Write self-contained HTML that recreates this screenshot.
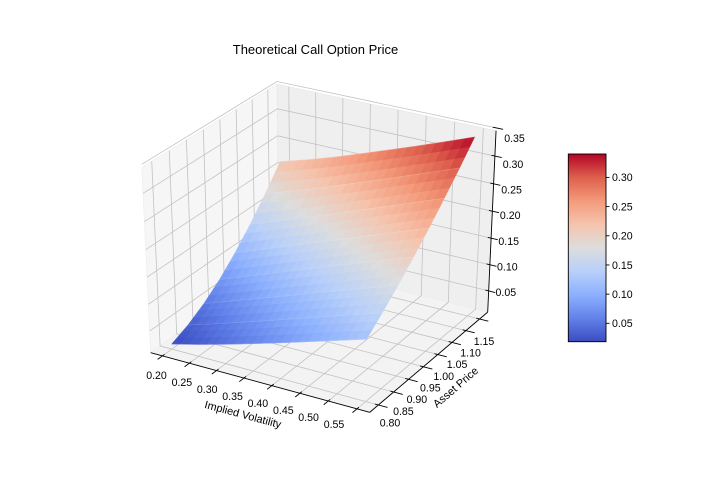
<!DOCTYPE html>
<html><head><meta charset="utf-8"><style>
html,body{margin:0;padding:0;background:#fff;}
svg{display:block;font-family:"Liberation Sans","DejaVu Sans",sans-serif;}
</style></head><body>
<svg id="chart" width="725" height="498" viewBox="0 0 725 498" xmlns="http://www.w3.org/2000/svg">
<rect width="725" height="498" fill="#fff"/>
<text x="315.5" y="54" font-size="13" text-anchor="middle" fill="#000">Theoretical Call Option Price</text>
<g id="panes"></g>
<g id="grid"></g>
<g id="surface"></g>
<g id="axes"></g>
<text x="0" y="0" font-size="11" text-anchor="middle" transform="translate(242,418) rotate(15)">Implied Volatility</text>
<text x="0" y="0" font-size="11" text-anchor="middle" transform="translate(458,390) rotate(-41)">Asset Price</text>
<defs><linearGradient id="cbg" x1="0" y1="1" x2="0" y2="0"></linearGradient></defs>
<g id="colorbar"></g>
</svg>
<script>
const vols = [0.20,0.25,0.30,0.35,0.40,0.45,0.50,0.55];
const assets = [0.80,0.85,0.90,0.95,1.00,1.05,1.10,1.15];
const prices = [
 [0.0185,0.0314,0.0454,0.0603,0.0756,0.0914,0.1072,0.1231],
 [0.0320,0.0478,0.0641,0.0808,0.0977,0.1145,0.1315,0.1484],
 [0.0508,0.0685,0.0864,0.1044,0.1223,0.1402,0.1582,0.1759],
 [0.0750,0.0938,0.1127,0.1314,0.1501,0.1685,0.1870,0.2053],
 [0.1045,0.1234,0.1422,0.1612,0.1802,0.1991,0.2179,0.2366],
 [0.1385,0.1565,0.1750,0.1937,0.2126,0.2316,0.2505,0.2696],
 [0.1766,0.1932,0.2105,0.2287,0.2471,0.2660,0.2849,0.3040],
 [0.2178,0.2324,0.2484,0.2660,0.2839,0.3021,0.3209,0.3401]
];
const xTicks = [0.20,0.25,0.30,0.35,0.40,0.45,0.50,0.55];
const yTicks = [0.80,0.85,0.90,0.95,1.00,1.05,1.10,1.15];
const zTicks = [0.05,0.10,0.15,0.20,0.25,0.30,0.35];
const cbTicks = [0.05,0.10,0.15,0.20,0.25,0.30];
const xLim=[0.178,0.572], yLim=[0.772,1.180], zLim=[0.009,0.345];

const NS="http://www.w3.org/2000/svg";
function mk(tag,attrs,parent){const e=document.createElementNS(NS,tag);for(const k in attrs)e.setAttribute(k,attrs[k]);parent.appendChild(e);return e;}
function nx(v){return (v-xLim[0])/(xLim[1]-xLim[0]);}
function ny(v){return (v-yLim[0])/(yLim[1]-yLim[0]);}
function nz(v){return (v-zLim[0])/(zLim[1]-zLim[0]);}
function proj(X,Y,Z){
  const xv=0.8660254*X+0.5*Y-0.6830127;
  const yv=-0.25*X+0.4330127*Y+0.8660254*Z-0.5245;
  const wd=10.0915-0.4330127*X+0.75*Y-0.5*Z;
  return [321.8+2528*xv/wd, 242.7-2115.7*yv/wd, wd];
}
function pts(list){return list.map(p=>{const q=proj(p[0],p[1],p[2]);return q[0].toFixed(2)+','+q[1].toFixed(2);}).join(' ');}
const cmKeys=[[59,76,192],[98,130,234],[141,176,254],[184,208,249],[221,221,221],[245,196,173],[244,154,123],[222,96,77],[180,4,38]];
function cmap(t){t=Math.max(0,Math.min(1,t));const f=t*8,i=Math.min(7,Math.floor(f)),r=f-i;const a=cmKeys[i],b=cmKeys[i+1];
  return 'rgb('+a.map((c,k)=>Math.round(c+(b[k]-c)*r)).join(',')+')';}

const panes=document.getElementById('panes');
let e;
e=mk('polygon',{points:pts([[0,0,0],[0,1,0],[0,1,1],[0,0,1]]),fill:'#f6f6f6',stroke:'#ececec','stroke-width':'0.6'},panes);

e=mk('polygon',{points:pts([[0,1,0],[1,1,0],[1,1,1],[0,1,1]]),fill:'#efefef',stroke:'#e6e6e6','stroke-width':'0.6'},panes);

e=mk('polygon',{points:pts([[0,0,0],[1,0,0],[1,1,0],[0,1,0]]),fill:'#f3f3f3',stroke:'#ececec','stroke-width':'0.6'},panes);


const grid=document.getElementById('grid');
const gs={fill:'none',stroke:'#c2c2c2','stroke-width':'0.8'};
function gline(list,name){const l=mk('polyline',Object.assign({points:pts(list)},gs),grid);}
xTicks.forEach(v=>{const u=nx(v);gline([[u,0,0],[u,1,0],[u,1,1]],'x-gridline');});
yTicks.forEach(v=>{const w=ny(v);gline([[1,w,0],[0,w,0],[0,w,1]],'y-gridline');});
zTicks.forEach(v=>{const w=nz(v);gline([[0,0,w],[0,1,w],[1,1,w]],'z-gridline');});

const surf=document.getElementById('surface');
const allZ=prices.flat();const zmin=Math.min(...allZ),zmax=Math.max(...allZ);
const N=3,polys=[];
for(let i=0;i<assets.length-1;i++)for(let j=0;j<vols.length-1;j++){
  const z00=prices[i][j],z01=prices[i][j+1],z10=prices[i+1][j],z11=prices[i+1][j+1];
  for(let a=0;a<N;a++)for(let b=0;b<N;b++){
    const cs=[[a/N,b/N],[a/N,(b+1)/N],[(a+1)/N,(b+1)/N],[(a+1)/N,b/N]];
    let zs=0,depth=0;
    const P=cs.map(([s,t])=>{
      const z=z00*(1-s)*(1-t)+z01*(1-s)*t+z10*s*(1-t)+z11*s*t;zs+=z;
      const vol=vols[j]+(vols[j+1]-vols[j])*t, S=assets[i]+(assets[i+1]-assets[i])*s;
      const p=[nx(vol),ny(S),nz(z)];depth+=proj(p[0],p[1],p[2])[2];return p;});
    polys.push({P,z:zs/4,depth});
  }
}
polys.sort((p,q)=>q.depth-p.depth);
polys.forEach(p=>{const c=cmap((p.z-zmin)/(zmax-zmin));
  const el=mk('polygon',{points:pts(p.P),fill:c,stroke:c,'stroke-width':'0.5'},surf);
  
  
});
for(let i=0;i<assets.length;i++){
  const l=mk('polyline',{points:pts(vols.map((v,j)=>[nx(v),ny(assets[i]),nz(prices[i][j])])),fill:'none',stroke:'rgba(255,255,255,0.22)','stroke-width':'0.6'},surf);
  
}

const ax=document.getElementById('axes');
const ls={stroke:'#000','stroke-width':'0.9',fill:'none'};
e=mk('polyline',Object.assign({points:pts([[0,0,0],[1,0,0]])},ls),ax);
e=mk('polyline',Object.assign({points:pts([[1,0,0],[1,1,0]])},ls),ax);
e=mk('polyline',Object.assign({points:pts([[1,1,0],[1,1,1]])},ls),ax);
function lerp(a,b,t){return a+(b-a)*t;}
xTicks.forEach(v=>{const u=nx(v);
  const t=mk('polyline',Object.assign({points:pts([[u,0.015,0],[u,-0.035,0]])},ls),ax);
  const f=(v-xTicks[0])/(xTicks[xTicks.length-1]-xTicks[0]);
  const tx=mk('text',{x:lerp(156.5,334,f).toFixed(1),y:(lerp(375,424.3,f)+3.8).toFixed(1),'font-size':'10.6','text-anchor':'middle'},ax);tx.textContent=v.toFixed(2);
  });
yTicks.forEach(v=>{const w=ny(v);
  const t=mk('polyline',Object.assign({points:pts([[0.985,w,0],[1.04,w,0]])},ls),ax);
  const f=(v-yTicks[0])/(yTicks[yTicks.length-1]-yTicks[0]);
  const tx=mk('text',{x:lerp(390,484,f).toFixed(1),y:(lerp(422.7,341,f)+3.8).toFixed(1),'font-size':'10.6','text-anchor':'middle'},ax);tx.textContent=v.toFixed(2);
  });
zTicks.forEach(v=>{const w=nz(v);
  const t=mk('polyline',Object.assign({points:pts([[0.985,1,w],[1.03,1.0,w]])},ls),ax);
  const f=(v-zTicks[0])/(zTicks[zTicks.length-1]-zTicks[0]);
  const tx=mk('text',{x:lerp(505.8,514.5,f).toFixed(1),y:(lerp(292.3,138.3,f)+3.8).toFixed(1),'font-size':'10.6','text-anchor':'middle'},ax);tx.textContent=v.toFixed(2);
  });

const grad=document.getElementById('cbg');
cmKeys.forEach((c,k)=>{mk('stop',{offset:(k/8*100)+'%','stop-color':'rgb('+c.join(',')+')'},grad);});
const cb=document.getElementById('colorbar');
const cbX=568.3,cbW=37.7,cbTop=154,cbBot=341.7;
e=mk('rect',{x:cbX,y:cbTop,width:cbW,height:cbBot-cbTop,fill:'url(#cbg)',stroke:'#000','stroke-width':'0.9'},cb);

function cbY(v){return cbBot-(v-zmin)/(zmax-zmin)*(cbBot-cbTop);}
cbTicks.forEach(v=>{const y=cbY(v);
  const t=mk('line',{x1:cbX+cbW,x2:cbX+cbW+3.5,y1:y,y2:y,stroke:'#000','stroke-width':'0.9'},cb);
  
  const tx=mk('text',{x:cbX+cbW+6,y:(y+3.8).toFixed(1),'font-size':'10.6'},cb);tx.textContent=v.toFixed(2);
  });
</script>
</body></html>
